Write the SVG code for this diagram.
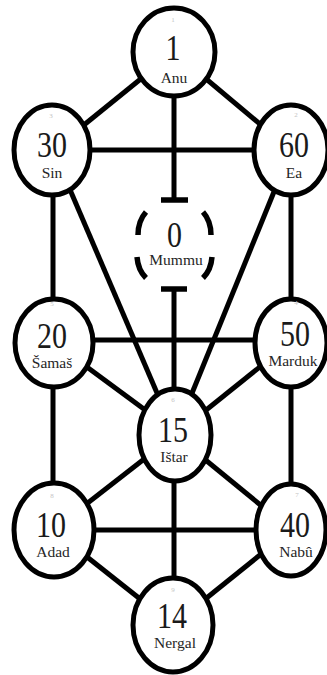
<svg xmlns="http://www.w3.org/2000/svg" width="327" height="675" viewBox="0 0 327 675">
<style>
.c{fill:#fff;stroke:#000;stroke-width:5}
.l{stroke:#000;stroke-width:5;fill:none}
.d{fill:none;stroke:#000;stroke-width:5.5;stroke-linecap:butt}
.n{font-family:"Liberation Serif","DejaVu Serif",serif;font-size:30px;text-anchor:middle;fill:#1a1a1a}
.t{font-family:"Liberation Serif","DejaVu Serif",serif;font-size:15.5px;text-anchor:middle;fill:#262626}
.s{font-family:"Liberation Serif","DejaVu Serif",serif;font-size:7px;text-anchor:middle;fill:#c4c4c4}
</style>
<rect width="327" height="675" fill="#fff"/>
<g id="connectors" class="l">
<line x1="174" y1="52" x2="53" y2="150"/>
<line x1="174" y1="52" x2="291" y2="150"/>
<line x1="174" y1="52" x2="174" y2="200"/>
<line x1="53" y1="150" x2="291" y2="150"/>
<line x1="53" y1="150" x2="53" y2="342"/>
<line x1="291" y1="150" x2="291" y2="342"/>
<line x1="53" y1="150" x2="175" y2="435"/>
<line x1="291" y1="150" x2="175" y2="435"/>
<line x1="53" y1="340" x2="291" y2="340"/>
<line x1="53" y1="342" x2="175" y2="432"/>
<line x1="291" y1="342" x2="175" y2="435"/>
<line x1="174" y1="289" x2="174" y2="435"/>
<line x1="53" y1="342" x2="53" y2="530"/>
<line x1="291" y1="342" x2="291" y2="530"/>
<line x1="175" y1="435" x2="53" y2="530"/>
<line x1="175" y1="435" x2="291" y2="530"/>
<line x1="53" y1="530" x2="291" y2="530"/>
<line x1="174" y1="435" x2="174" y2="625"/>
<line x1="53" y1="530" x2="173" y2="625"/>
<line x1="291" y1="530" x2="173" y2="625"/>
</g>
<g id="anu">
<ellipse class="c" cx="174" cy="52" rx="41" ry="44"/>
<text class="s" x="173" y="22">1</text>
<text class="n" transform="translate(173,60) scale(1,1.18)">1</text>
<text class="t" x="174" y="83">Anu</text>
</g>
<g id="sin">
<ellipse class="c" cx="52" cy="150" rx="38" ry="45"/>
<text class="s" x="51" y="118">3</text>
<text class="n" transform="translate(52,157) scale(1,1.18)">30</text>
<text class="t" x="52" y="178">Sin</text>
</g>
<g id="ea">
<ellipse class="c" cx="291" cy="150" rx="37" ry="45"/>
<text class="s" x="296" y="117">2</text>
<text class="n" transform="translate(294,157) scale(1,1.18)">60</text>
<text class="t" x="294" y="178">Ea</text>
</g>
<g id="mummu">
<line class="d" x1="161" y1="200" x2="188" y2="200"/>
<line class="d" x1="161" y1="289" x2="187" y2="289"/>
<path class="d" d="M146,212 Q138,221 138,235"/>
<path class="d" d="M203,212 Q211,221 211,235"/>
<path class="d" d="M137,257 Q138,270 146,278"/>
<path class="d" d="M212,257 Q211,270 203,278"/>
<text class="n" transform="translate(174.5,247) scale(1,1.18)">0</text>
<text class="t" x="176" y="265">Mummu</text>
</g>
<g id="samas">
<ellipse class="c" cx="54" cy="343" rx="39" ry="44"/>
<text class="s" x="52" y="306">5</text>
<text class="n" transform="translate(52,348) scale(1,1.18)">20</text>
<text class="t" x="52" y="368">Šamaš</text>
</g>
<g id="marduk">
<ellipse class="c" cx="291" cy="343" rx="36" ry="44"/>
<text class="s" x="296" y="305">4</text>
<text class="n" transform="translate(295,346) scale(1,1.18)">50</text>
<text class="t" x="293" y="366">Marduk</text>
</g>
<g id="istar">
<ellipse class="c" cx="175" cy="435" rx="36" ry="46"/>
<text class="s" x="173" y="402">6</text>
<text class="n" transform="translate(173,442) scale(1,1.18)">15</text>
<text class="t" x="174" y="462">Ištar</text>
</g>
<g id="adad">
<ellipse class="c" cx="54" cy="530" rx="40" ry="47"/>
<text class="s" x="52" y="498">8</text>
<text class="n" transform="translate(51,537) scale(1,1.18)">10</text>
<text class="t" x="53" y="557">Adad</text>
</g>
<g id="nabu">
<ellipse class="c" cx="291" cy="530" rx="35" ry="46"/>
<text class="s" x="297" y="497">7</text>
<text class="n" transform="translate(295,537) scale(1,1.18)">40</text>
<text class="t" x="296" y="557">Nabû</text>
</g>
<g id="nergal">
<ellipse class="c" cx="173" cy="625" rx="40" ry="47"/>
<text class="s" x="173" y="592">9</text>
<text class="n" transform="translate(172,628) scale(1,1.18)">14</text>
<text class="t" x="175" y="648">Nergal</text>
</g>
</svg>
